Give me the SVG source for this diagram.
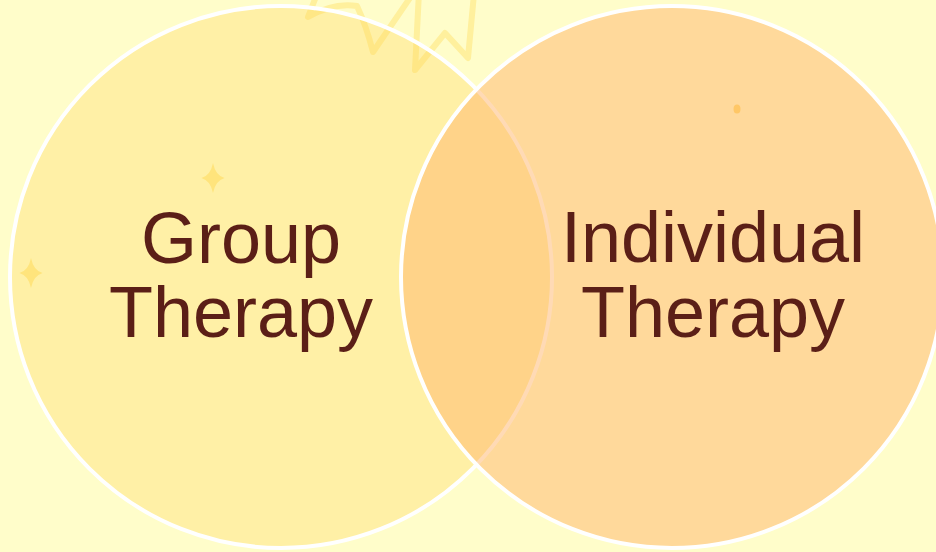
<svg xmlns="http://www.w3.org/2000/svg" width="936" height="552" viewBox="0 0 936 552">
  <style>
    .lbl { font-family: "Liberation Sans", Arial, sans-serif; font-size: 72px; fill: #5B1F17; text-anchor: middle; }
    .ring { fill: none; stroke: #FFFFFF; stroke-width: 4; }
    .spark { fill: #FFE47C; }
  </style>
  <defs>
    <path id="star" d="M0,-15 Q2.5,-2.5 11.5,0 Q2.5,2.5 0,15 Q-2.5,2.5 -11.5,0 Q-2.5,-2.5 0,-15 Z"/>
  </defs>
  <rect width="936" height="552" fill="#FFFDCA"/>
  <g id="group-therapy">
    <circle cx="281" cy="277" r="271" fill="#FFF0A6"/>
    <path d="M 317 -6 L 308 17 Q 334 2 357 6 Q 366 25 373 52 L 414 -8 L 419 -8 L 415 70 L 445 33 L 468 58 L 474 -6" fill="none" stroke="#FFD84A" stroke-opacity="0.35" stroke-width="6" stroke-linejoin="round" stroke-linecap="round"/>
    <use href="#star" class="spark" x="213" y="178"/>
    <use href="#star" class="spark" x="31" y="273"/>
    <circle class="ring" cx="281" cy="277" r="271"/>
    <text class="lbl" x="241" y="263">Group</text>
    <text class="lbl" x="241" y="337">Therapy</text>
  </g>
  <g id="individual-therapy">
    <circle cx="672" cy="277" r="271" fill="#FFB56C" fill-opacity="0.5"/>
    <circle class="ring" cx="672" cy="277" r="271"/>
    <ellipse cx="737" cy="109" rx="3.5" ry="4.5" fill="#FFC766"/>
    <text class="lbl" x="713" y="262">Individual</text>
    <text class="lbl" x="713" y="337">Therapy</text>
  </g>
  <g id="connectors"/>
</svg>
